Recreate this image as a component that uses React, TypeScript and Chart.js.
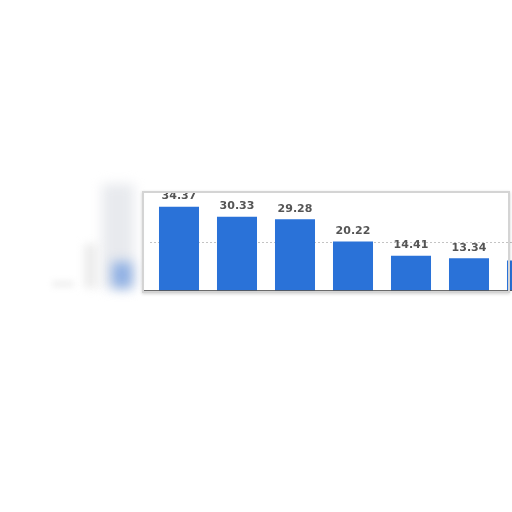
import React, { useEffect, useRef } from 'react';
import { Chart, registerables, Plugin } from 'chart.js';

Chart.register(...registerables);

const categories = ['A', 'B', 'C', 'D', 'E', 'F', 'G'];
const values = [34.37, 30.33, 29.28, 20.22, 14.41, 13.34, 12.4];
const labels = ['34.37', '30.33', '29.28', '20.22', '14.41', '13.34', ''];
const yTicks = [0, 20, 40];

// value above each bar, plus the solid dark base line
const valueLabels: Plugin<'bar'> = {
  id: 'valueLabels',
  afterDatasetsDraw(chart) {
    const ctx = chart.ctx;
    const meta = chart.getDatasetMeta(0);
    const area = chart.chartArea;
    const y0 = chart.scales.y.getPixelForValue(0);
    ctx.save();
    ctx.strokeStyle = '#3a3a3a';
    ctx.lineWidth = 1.5;
    ctx.beginPath();
    ctx.moveTo(0, y0);
    ctx.lineTo(area.right, y0);
    ctx.stroke();

    ctx.font = 'bold 11px "DejaVu Sans", Arial, sans-serif';
    ctx.fillStyle = '#555555';
    ctx.textAlign = 'center';
    ctx.textBaseline = 'bottom';
    meta.data.forEach((bar: any, i: number) => {
      if (!labels[i]) return;
      ctx.fillText(labels[i], bar.x, bar.y - 5);
    });
    ctx.restore();
  },
};

const App: React.FC = () => {
  const canvasRef = useRef<HTMLCanvasElement | null>(null);
  const chartRef = useRef<Chart | null>(null);

  useEffect(() => {
    const canvas = canvasRef.current;
    if (!canvas) return;
    if (chartRef.current) chartRef.current.destroy();

    chartRef.current = new Chart(canvas, {
      type: 'bar',
      data: {
        labels: categories,
        datasets: [
          {
            data: values,
            backgroundColor: '#2a72d8',
            barPercentage: 0.69,
            categoryPercentage: 1,
          },
        ],
      },
      options: {
        animation: false,
        responsive: true,
        maintainAspectRatio: false,
        layout: { padding: { top: 13, left: 6, right: 0, bottom: 0 } },
        plugins: {
          legend: { display: false },
          tooltip: { enabled: false },
        },
        scales: {
          x: { display: false },
          y: {
            min: 0,
            max: 40,
            afterBuildTicks: (scale: any) => {
              scale.ticks = yTicks.map((v) => ({ value: v }));
            },
            ticks: { display: false },
            border: { display: false, dash: [2, 2] },
            grid: {
              drawTicks: false,
              color: (c: any) => (c.tick.value === 20 ? '#c4c4c4' : 'rgba(0,0,0,0)'),
            },
          },
        },
      },
      plugins: [valueLabels],
    });

    return () => {
      if (chartRef.current) chartRef.current.destroy();
      chartRef.current = null;
    };
  }, []);

  return (
    <div
      style={{
        position: 'fixed',
        left: 0,
        top: 0,
        width: 512,
        height: 512,
        overflow: 'hidden',
        background: '#ffffff',
      }}
    >
      {/* blurred axis area on the left */}
      <div aria-hidden style={{ position: 'absolute', left: 102, top: 184, width: 32, height: 104, background: '#e8eaee', filter: 'blur(6px)' }}></div>
      <div aria-hidden style={{ position: 'absolute', left: 112, top: 262, width: 20, height: 26, background: '#8fb0e4', filter: 'blur(6px)' }}></div>
      <div aria-hidden style={{ position: 'absolute', left: 84, top: 244, width: 14, height: 44, background: '#ededed', filter: 'blur(4px)' }}></div>
      <div aria-hidden style={{ position: 'absolute', left: 52, top: 281, width: 22, height: 6, background: '#efefef', filter: 'blur(3px)' }}></div>

      <div style={{ position: 'absolute', left: 144, top: 180, width: 412, height: 111 }}>
        <canvas ref={canvasRef}></canvas>
      </div>

      {/* frame */}
      <div
        style={{
          position: 'absolute',
          left: 142,
          top: 191,
          width: 364,
          height: 98,
          border: '2px solid #d4d4d4',
          boxShadow: '0 1px 3px rgba(0,0,0,0.18)',
          pointerEvents: 'none',
        }}
      ></div>
    </div>
  );
};

export default App;
